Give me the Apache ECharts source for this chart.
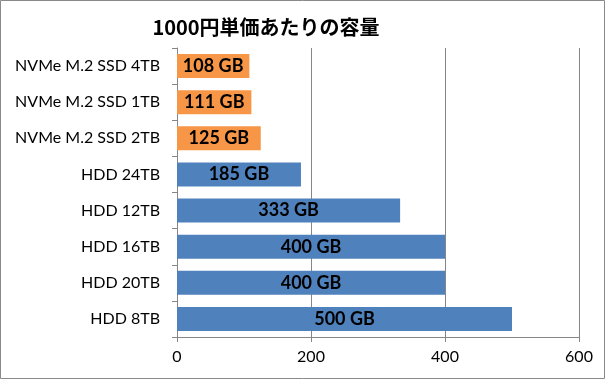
<!DOCTYPE html>
<html>
<head>
<meta charset="utf-8">
<script src="https://cdn.jsdelivr.net/npm/echarts@6/dist/echarts.min.js"></script>
<style>
html,body{margin:0;padding:0;background:#fff;}
#c{width:605px;height:379px;}
</style>
</head>
<body>
<div id="c"></div>
<script>
const titleText = '1000円単価あたりの容量';
const categories = ['NVMe M.2 SSD 4TB','NVMe M.2 SSD 1TB','NVMe M.2 SSD 2TB','HDD 24TB','HDD 12TB','HDD 16TB','HDD 20TB','HDD 8TB'];
const values = [108, 111, 125, 185, 333, 400, 400, 500];
const unit = ' GB';
const axisMax = 600;
const axisInterval = 200;

const chart = echarts.init(document.getElementById('c'), null, {renderer:'canvas'});
const ORANGE = '#F79646', BLUE = '#4F81BD', GRAY = '#868686';
chart.setOption({
  animation: false,
  backgroundColor: '#fff',
  title: {
    text: titleText, left: 261, top: 12, textAlign: 'center',
    textStyle: {fontFamily: '"Noto Sans CJK JP"', fontWeight: 'bold', fontSize: 20, color: '#000'}
  },
  graphic: [{
    type: 'rect', shape: {x: 0.5, y: 0.5, width: 604, height: 378},
    style: {fill: null, stroke: '#898989', lineWidth: 1}, silent: true
  }],
  grid: {left: 177, right: 26, top: 48, bottom: 42, containLabel: false},
  xAxis: {
    type: 'value', min: 0, max: axisMax, interval: axisInterval,
    axisLine: {show: true, lineStyle: {color: GRAY, width: 1}},
    axisTick: {show: true, length: 5, lineStyle: {color: GRAY}},
    splitLine: {show: true, lineStyle: {color: GRAY, width: 1}},
    axisLabel: {color: '#000', fontFamily: 'Lato', fontSize: 16, margin: 12}
  },
  yAxis: {
    type: 'category', data: categories, inverse: true,
    axisLine: {show: true, lineStyle: {color: GRAY, width: 1}},
    axisTick: {show: true, length: 5, lineStyle: {color: GRAY}},
    axisLabel: {color: '#000', fontFamily: 'Lato', fontSize: 16, margin: 17}
  },
  series: [{
    type: 'bar',
    barWidth: 24,
    data: values.map((v, i) => ({
      value: v,
      itemStyle: {color: categories[i].startsWith('NVMe') ? ORANGE : BLUE}
    })),
    label: {
      show: true, position: 'inside', color: '#000',
      fontFamily: 'Lato', fontWeight: 'bold', fontSize: 18,
      formatter: p => p.value + unit
    }
  }]
});
</script>
</body>
</html>
